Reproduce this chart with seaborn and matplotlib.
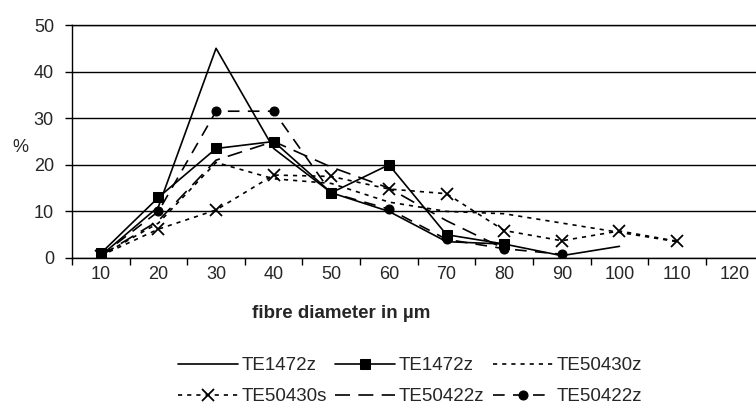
#!/usr/bin/env python3
"""Fibre diameter distribution - line chart recreated with seaborn."""

import matplotlib
matplotlib.use("Agg")
import matplotlib.pyplot as plt
import numpy as np
import seaborn as sns

# categories on the x axis
diameters = [10, 20, 30, 40, 50, 60, 70, 80, 90, 100, 110, 120]

# series values in % (start at 10 µm)
te1472z_plain = [0.5, 11, 45, 23.5, 14, 10, 3.5, 3, 0.5, 2.5]
te1472z_square = [1, 13, 23.5, 25, 14, 20, 5, 3]
te50430z = [0.5, 7.5, 20.5, 17, 16, 12, 10, 9.5, 7.5, 5.5, 3.5]
te50430s = [0.5, 6.2, 10.3, 17.8, 17.5, 14.8, 13.8, 5.9, 3.7, 5.8, 3.6]
te50422z_dash = [0.5, 8, 21, 25, 19.5, 15, 8, 2]
te50422z_circle = [0.5, 10, 31.5, 31.5, 14, 10.5, 4, 2, 0.8]

sns.set_style("white")
plt.rcParams["font.family"] = ["Liberation Sans", "DejaVu Sans"]

fig = plt.figure(figsize=(7.56, 4.07), dpi=100)
ax = fig.add_axes([72 / 756, 149 / 407, 684 / 756, 233 / 407])

series = [
    (te1472z_plain, "TE1472z", dict(linestyle="-", marker=None)),
    (te1472z_square, "TE1472z", dict(linestyle="-", marker="s", markersize=7)),
    (te50430z, "TE50430z", dict(linestyle=(0, (2.5, 3)), marker=None)),
    (te50430s, "TE50430s", dict(linestyle=(0, (2.5, 3)), marker="x",
                                markersize=9, markeredgewidth=1.3)),
    (te50422z_dash, "TE50422z", dict(linestyle=(0, (9, 5)), marker=None)),
    (te50422z_circle, "TE50422z", dict(linestyle=(0, (7, 5)), marker="o",
                                       markersize=6.5)),
]

for values, name, style in series:
    xs = np.arange(len(values))
    sns.lineplot(x=xs, y=values, ax=ax, color="black", linewidth=1.2,
                 label=name, markeredgecolor="black", **style)

# axes styling
ax.set_ylim(0, 50)
ax.set_xlim(-0.5, 11.37)
ax.set_yticks(range(0, 51, 10))
ax.yaxis.grid(True, color="black", linewidth=1.0)
ax.set_xticks(np.arange(len(diameters)))
ax.set_xticklabels([str(d) for d in diameters])
ax.set_xticks(np.arange(len(diameters)) - 0.5, minor=True)
ax.tick_params(axis="x", which="major", length=0, labelsize=13, pad=6)
ax.tick_params(axis="x", which="minor", length=5, width=1, direction="out",
               color="black", bottom=True)
ax.tick_params(axis="y", length=5, width=1, direction="out", color="black",
               left=True, labelsize=13, pad=8)
for side in ["left", "bottom", "top"]:
    ax.spines[side].set_color("black")
    ax.spines[side].set_linewidth(1.0)
ax.spines["right"].set_visible(False)

ax.set_ylabel("%", rotation=0, fontsize=13, va="center", ha="center")
ax.yaxis.set_label_coords(-0.076, 0.476)
ax.set_xlabel("fibre diameter in µm", fontsize=13.5, fontweight="bold")
ax.xaxis.set_label_coords(0.393, -0.2)

# legend in two rows of three, filled row by row
handles, labels = ax.get_legend_handles_labels()
ax.get_legend().remove()
order = [0, 3, 1, 4, 2, 5]
fig.legend([handles[i] for i in order], [labels[i] for i in order],
           ncol=3, frameon=False, loc="upper center",
           bbox_to_anchor=(0.542, 0.145), fontsize=13.5, handlelength=3.2,
           handletextpad=0.2, columnspacing=0.45, labelspacing=0.72,
           borderpad=0)

fig.savefig("out.png", dpi=100, facecolor="white")
